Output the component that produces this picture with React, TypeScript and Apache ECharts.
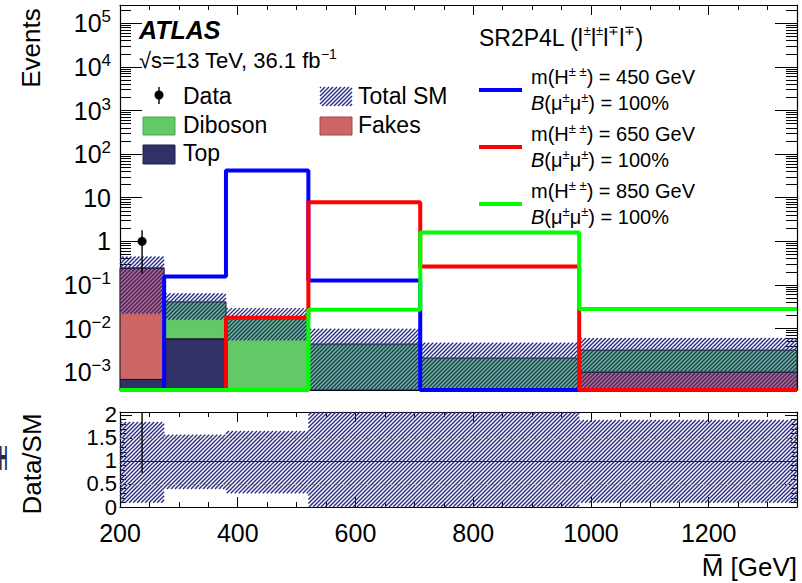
import React, { useEffect, useRef } from "react";
import * as echarts from "echarts";

const FONT = "'Liberation Sans', Arial, Helvetica, sans-serif";

// ---- data ----
const binEdges = [200, 275, 380, 520, 710, 980, 1350];
const topValues = [0.00068, 0.0058, 0, 0, 0, 0];
const fakesValues = [0.24, 0, 0, 0, 0, 0.001];
const dibosonValues = [0.002, 0.035, 0.0178, 0.0044, 0.0021, 0.0022];
const sysRatioLow = [0.09, 0.39, 0.3, 0, 0, 0.09];
const sysRatioHigh = [1.85, 1.57, 1.65, 2.25, 2.24, 1.89];
const dataValues = [1, 0, 0, 0, 0, 0];
const dataLow = [0.18, 0, 0, 0, 0, 0];
const dataHigh = [1.8, 0, 0, 0, 0, 0];
const signal450 = [0, 0.155, 42, 0.126, 0, 0];
const signal650 = [0, 0, 0.0176, 7.9, 0.265, 0];
const signal850 = [0, 0, 0, 0.027, 1.6, 0.028];
const signalMasses = [450, 650, 850];
const xTickValues = [200, 400, 600, 800, 1000, 1200];
const yTickExponents = [-3, -2, -1, 0, 1, 2, 3, 4, 5];
const ratioTickValues = [0, 0.5, 1, 1.5, 2];
const ratioRefLines = [0.5, 1, 1.5];

// ---- axis ranges ----
const X_MIN = 200;
const X_MAX = 1350;
const LOG_MIN = -3.41;
const LOG_MAX = 5.42;
const R_MIN = 0;
const R_MAX = 2.065;

const C_DIBOSON = "#63C866";
const C_TOP = "#313168";
const C_FAKES = "#CC6666";
const C_HATCH = "#2B2B88";
const C_BLUE = "#0000FF";
const C_RED = "#FF0000";
const C_GREEN = "#00FF00";

const lg = (v: number) => (v > 0 ? Math.log10(v) : LOG_MIN - 3);

const xMinor: number[] = [];
for (let v = X_MIN + 50; v < X_MAX; v += 50) if (v % 200 !== 0) xMinor.push(v);
const yMinor: number[] = [];
for (let e = -4; e <= 5; e++)
  for (let m = 2; m <= 9; m++) {
    const l = e + Math.log10(m);
    if (l > LOG_MIN && l < LOG_MAX) yMinor.push(l);
  }
const rMinor: number[] = [];
for (let i = 1; i <= 20; i++) if (i % 5 !== 0) rMinor.push(i / 10);

function hatchLines(x0: number, y0: number, x1: number, y1: number, step: number, color: string, width: number) {
  const out: any[] = [];
  const start = Math.ceil((x0 + y0) / step) * step;
  for (let c = start; c <= x1 + y1; c += step) {
    const xs = Math.max(x0, c - y1);
    const xe = Math.min(x1, c - y0);
    if (xe > xs) {
      out.push({
        type: "line",
        shape: { x1: xs, y1: c - xs, x2: xe, y2: c - xe },
        style: { stroke: color, lineWidth: width },
      });
    }
  }
  return out;
}

function rectRender(fill: string) {
  return (params: any, api: any) => {
    const cs = params.coordSys;
    const a = api.coord([api.value(0), api.value(3)]);
    const b = api.coord([api.value(1), api.value(2)]);
    const top = Math.max(cs.y, a[1]);
    const bot = Math.min(cs.y + cs.height, b[1]);
    if (bot <= top) return null;
    return {
      type: "rect",
      shape: { x: a[0], y: top, width: b[0] - a[0], height: bot - top },
      style: { fill, stroke: "#111", lineWidth: 1 },
    };
  };
}

function hatchRender(params: any, api: any) {
  const cs = params.coordSys;
  const a = api.coord([api.value(0), api.value(3)]);
  const b = api.coord([api.value(1), api.value(2)]);
  const top = Math.max(cs.y, a[1]);
  const bot = Math.min(cs.y + cs.height, b[1]);
  if (bot <= top) return null;
  return { type: "group", children: hatchLines(a[0], top, b[0], bot, 4, C_HATCH, 1.4) };
}

function dataRender(params: any, api: any) {
  const cs = params.coordSys;
  const p = api.coord([api.value(0), api.value(1)]);
  const lo = api.coord([api.value(0), api.value(2)]);
  const hi = api.coord([api.value(0), api.value(3)]);
  const yTop = Math.max(cs.y, hi[1]);
  const yBot = Math.min(cs.y + cs.height, lo[1]);
  const children: any[] = [];
  if (yBot > yTop)
    children.push({
      type: "line",
      shape: { x1: p[0], y1: yTop, x2: p[0], y2: yBot },
      style: { stroke: "#000", lineWidth: 1.4 },
    });
  if (p[1] >= cs.y && p[1] <= cs.y + cs.height)
    children.push({ type: "circle", shape: { cx: p[0], cy: p[1], r: 4.5 }, style: { fill: "#000" } });
  return { type: "group", children };
}

function App() {
  const ref = useRef<HTMLDivElement>(null);
  useEffect(() => {
    document.body.style.margin = "0";
    const chart = echarts.init(ref.current!, null, { renderer: "svg" });

    const nb = binEdges.length - 1;
    const cumTop = topValues.slice();
    const cumFakes = topValues.map((v, i) => v + fakesValues[i]);
    const total = cumFakes.map((v, i) => v + dibosonValues[i]);

    const stackData = (low: number[], high: number[], comp: number[]) =>
      comp
        .map((c, i) => (c > 0 ? [binEdges[i], binEdges[i + 1], lg(low[i]), lg(high[i])] : null))
        .filter((d) => d !== null);

    const zeros = new Array(nb).fill(0);
    const topData = stackData(zeros, cumTop, topValues);
    const fakesData = stackData(cumTop, cumFakes, fakesValues);
    const dibosonData = stackData(cumFakes, total, dibosonValues);
    const hatchData = total.map((t, i) => [
      binEdges[i],
      binEdges[i + 1],
      lg(t * sysRatioLow[i]),
      lg(t * sysRatioHigh[i]),
    ]);
    const ratioHatchData = total.map((t, i) => [binEdges[i], binEdges[i + 1], sysRatioLow[i], sysRatioHigh[i]]);
    const dataMain: number[][] = [];
    const dataRatio: number[][] = [];
    dataValues.forEach((d, i) => {
      if (d > 0) {
        const xc = (binEdges[i] + binEdges[i + 1]) / 2;
        dataMain.push([xc, lg(d), lg(dataLow[i]), lg(dataHigh[i])]);
        dataRatio.push([xc, d / total[i], dataLow[i] / total[i], dataHigh[i] / total[i]]);
      }
    });
    const stepData = (vals: number[]) => {
      const pts = vals.map((v, i) => [binEdges[i], v > 0 ? Math.log10(v) : LOG_MIN]);
      const last = vals[vals.length - 1];
      pts.push([binEdges[vals.length], last > 0 ? Math.log10(last) : LOG_MIN]);
      return pts;
    };

    const lineStyle = { color: "#000", width: 1.2 };
    const tick = (values: number[], len: number) => ({
      show: true,
      inside: true,
      length: len,
      customValues: values,
      lineStyle: { color: "#000", width: 1 },
    });

    const xAxes: any[] = [];
    const yAxes: any[] = [];
    [0, 1].forEach((g) => {
      ["bottom", "top"].forEach((pos) => {
        const showLabel = g === 1 && pos === "bottom";
        xAxes.push({
          type: "value",
          gridIndex: g,
          position: pos,
          min: X_MIN,
          max: X_MAX,
          axisLine: { show: true, onZero: false, lineStyle },
          axisTick: tick(xTickValues, 10),
          axisLabel: {
            show: showLabel,
            customValues: xTickValues,
            showMinLabel: true,
            fontSize: 25,
            fontFamily: FONT,
            color: "#000",
            margin: 13,
            formatter: (v: number) => String(v),
          },
          splitLine: { show: false },
        });
        xAxes.push({
          type: "value",
          gridIndex: g,
          position: pos,
          min: X_MIN,
          max: X_MAX,
          axisLine: { show: false, onZero: false },
          axisTick: tick(xMinor, 5),
          axisLabel: { show: false },
          splitLine: { show: false },
        });
      });
    });
    // main y axes
    ["left", "right"].forEach((pos) => {
      yAxes.push({
        type: "value",
        gridIndex: 0,
        position: pos,
        min: LOG_MIN,
        max: LOG_MAX,
        axisLine: { show: true, onZero: false, lineStyle },
        axisTick: tick(yTickExponents, 22),
        axisLabel: {
          show: pos === "left",
          customValues: yTickExponents,
          showMinLabel: true,
          showMaxLabel: true,
          margin: 9,
          formatter: (v: number) => {
            if (v === 0) return "{b|1}";
            if (v === 1) return "{b|10}";
            return `{b|10}{s|${v < 0 ? "\u2212" + -v : v}}`;
          },
          rich: {
            b: { fontSize: 25, lineHeight: 30, fontFamily: FONT, color: "#000" },
            s: { fontSize: 17, lineHeight: 14, verticalAlign: "top", fontFamily: FONT, color: "#000" },
          },
        },
        splitLine: { show: false },
      });
      yAxes.push({
        type: "value",
        gridIndex: 0,
        position: pos,
        min: LOG_MIN,
        max: LOG_MAX,
        axisLine: { show: false, onZero: false },
        axisTick: tick(yMinor, 11),
        axisLabel: { show: false },
        splitLine: { show: false },
      });
    });
    const ratioLabelA = ratioTickValues.filter((v) => Number.isInteger(v));
    const ratioLabelB = ratioTickValues.filter((v) => !Number.isInteger(v));
    const ratioLabel = (show: boolean, values: number[]) => ({
      show,
      customValues: values,
      showMinLabel: true,
      showMaxLabel: true,
      margin: 3,
      fontSize: 22,
      lineHeight: 21,
      fontFamily: FONT,
      color: "#000",
      formatter: (v: number) => String(v),
    });
    ["left", "right"].forEach((pos) => {
      yAxes.push({
        type: "value",
        gridIndex: 1,
        position: pos,
        min: R_MIN,
        max: R_MAX,
        axisLine: { show: true, onZero: false, lineStyle },
        axisTick: tick(ratioTickValues, 12),
        axisLabel: ratioLabel(pos === "left", ratioLabelA),
        splitLine: { show: false },
      });
      yAxes.push({
        type: "value",
        gridIndex: 1,
        position: pos,
        min: R_MIN,
        max: R_MAX,
        axisLine: { show: false, onZero: false },
        axisTick: tick(rMinor, 6),
        axisLabel: ratioLabel(pos === "left", ratioLabelB),
        splitLine: { show: false },
      });
    });

    const custom = (name: string, data: any[], renderItem: any, z: number, xi = 0, yi = 0, extra: any = {}) => ({
      type: "custom",
      name,
      coordinateSystem: "cartesian2d",
      xAxisIndex: xi,
      yAxisIndex: yi,
      data,
      renderItem,
      silent: true,
      z,
      ...extra,
    });
    const sigSeries = (vals: number[], color: string) => ({
      type: "line",
      xAxisIndex: 0,
      yAxisIndex: 0,
      step: "end",
      data: stepData(vals),
      showSymbol: false,
      clip: false,
      silent: true,
      lineStyle: { color, width: 4 },
      z: 3,
    });

    const legendText = (x: number, y: number, text: string, size = 23) => ({
      type: "text",
      x,
      y,
      style: { text, fontSize: size, fontFamily: FONT, fill: "#000", textVerticalAlign: "middle" },
    });
    const sigRich = {
      n: { fontSize: 20, lineHeight: 24, fontFamily: FONT, color: "#000" },
      i: { fontSize: 20, lineHeight: 24, fontFamily: FONT, fontStyle: "italic", color: "#000" },
      s: { fontSize: 13, lineHeight: 13, verticalAlign: "top", fontFamily: FONT, color: "#000" },
    };
    const sigColors = [C_BLUE, C_RED, C_GREEN];
    const sigLegend: any[] = [];
    signalMasses.forEach((m, k) => {
      const yc = 90 + k * 57;
      sigLegend.push({
        type: "line",
        shape: { x1: 479, y1: yc, x2: 522, y2: yc },
        style: { stroke: sigColors[k], lineWidth: 4 },
      });
      sigLegend.push({
        type: "text",
        x: 531,
        y: yc - 13,
        style: {
          text: `{n|m(H}{s|\u00b1 \u00b1}{n|) = ${m} GeV}`,
          rich: sigRich,
          textVerticalAlign: "middle",
        },
      });
      sigLegend.push({
        type: "text",
        x: 531,
        y: yc + 13,
        style: {
          text: `{i|B}{n|(\u03bc}{s|\u00b1}{n|\u03bc}{s|\u00b1}{n|) = 100%}`,
          rich: sigRich,
          textVerticalAlign: "middle",
        },
      });
    });

    const option: any = {
      animation: false,
      backgroundColor: "#fff",
      grid: [
        { left: 120, top: 5, width: 677, height: 385 },
        { left: 120, top: 412, width: 677, height: 95 },
      ],
      xAxis: xAxes,
      yAxis: yAxes,
      series: [
        custom("Top", topData, rectRender(C_TOP), 1),
        custom("Fakes", fakesData, rectRender(C_FAKES), 1),
        custom("Diboson", dibosonData, rectRender(C_DIBOSON), 1),
        custom("Total SM", hatchData, hatchRender, 2),
        sigSeries(signal450, C_BLUE),
        sigSeries(signal650, C_RED),
        sigSeries(signal850, C_GREEN),
        custom("Data", dataMain, dataRender, 4),
        custom("Ratio band", ratioHatchData, hatchRender, 2, 4, 4, {
          markLine: {
            silent: true,
            symbol: "none",
            label: { show: false },
            data: ratioRefLines.map((r) => ({
              yAxis: r,
              lineStyle:
                r === 1
                  ? { type: "solid", color: "#222", width: 1 }
                  : { type: [3, 3], color: "#999", width: 1 },
            })),
          },
        }),
        custom("Ratio data", dataRatio, dataRender, 4, 4, 4),
      ],
      graphic: [
        {
          type: "text",
          x: 31,
          y: 48,
          rotation: Math.PI / 2,
          style: { text: "Events", fontSize: 26, fontFamily: FONT, fill: "#000", textAlign: "center", textVerticalAlign: "middle" },
        },
        {
          type: "text",
          x: 32,
          y: 464,
          rotation: Math.PI / 2,
          style: { text: "Data/SM", fontSize: 26, fontFamily: FONT, fill: "#000", textAlign: "center", textVerticalAlign: "middle" },
        },
        {
          type: "text",
          x: 797,
          y: 567,
          style: { text: "M\u0305 [GeV]", fontSize: 26, fontFamily: FONT, fill: "#000", textAlign: "right", textVerticalAlign: "middle" },
        },
        {
          type: "text",
          x: -1,
          y: 458,
          scaleX: 0.33,
          style: { text: "H", fontSize: 36, fontWeight: "bold", fontFamily: FONT, fill: "#1B2F55", textVerticalAlign: "middle" },
        },
        {
          type: "text",
          x: 139,
          y: 30,
          style: { text: "ATLAS", fontSize: 25, fontWeight: "bold", fontStyle: "italic", fontFamily: FONT, fill: "#000", textVerticalAlign: "middle" },
        },
        {
          type: "text",
          x: 139,
          y: 60,
          style: {
            text: "{n|\u221as=13 TeV, 36.1 fb}{s|\u22121}",
            rich: {
              n: { fontSize: 22, lineHeight: 26, fontFamily: FONT, color: "#000" },
              s: { fontSize: 14, lineHeight: 14, verticalAlign: "top", fontFamily: FONT, color: "#000" },
            },
            textVerticalAlign: "middle",
          },
        },
        {
          type: "text",
          x: 479,
          y: 38,
          style: {
            text: "{n|SR2P4L (l}{s|\u00b1}{n|l}{s|\u00b1}{n|l}{s|\u2213}{n|l}{s|\u2213}{n|)}",
            rich: {
              n: { fontSize: 23, lineHeight: 28, fontFamily: FONT, color: "#000" },
              s: { fontSize: 13, lineHeight: 13, verticalAlign: "top", fontFamily: FONT, color: "#000" },
            },
            textVerticalAlign: "middle",
          },
        },
        // left legend
        { type: "line", shape: { x1: 159, y1: 87, x2: 159, y2: 104 }, style: { stroke: "#000", lineWidth: 1.4 } },
        { type: "circle", shape: { cx: 159, cy: 95, r: 4.5 }, style: { fill: "#000" } },
        legendText(183, 96, "Data"),
        { type: "rect", shape: { x: 143, y: 117, width: 32, height: 18 }, style: { fill: C_DIBOSON, stroke: "#4DAA55", lineWidth: 1 } },
        legendText(183, 125, "Diboson"),
        { type: "rect", shape: { x: 143, y: 145, width: 32, height: 19 }, style: { fill: C_TOP, stroke: "#1E1E48", lineWidth: 1 } },
        legendText(183, 153, "Top"),
        { type: "group", children: hatchLines(320, 87, 352, 106, 4, C_HATCH, 1.4) },
        legendText(358, 96, "Total SM"),
        { type: "rect", shape: { x: 320, y: 117, width: 32, height: 18 }, style: { fill: C_FAKES, stroke: "#A84444", lineWidth: 1 } },
        legendText(358, 125, "Fakes"),
        ...sigLegend,
      ],
    };
    chart.setOption(option);
    return () => chart.dispose();
  }, []);
  return <div ref={ref} style={{ width: 802, height: 583 }} />;
}

export default App;
